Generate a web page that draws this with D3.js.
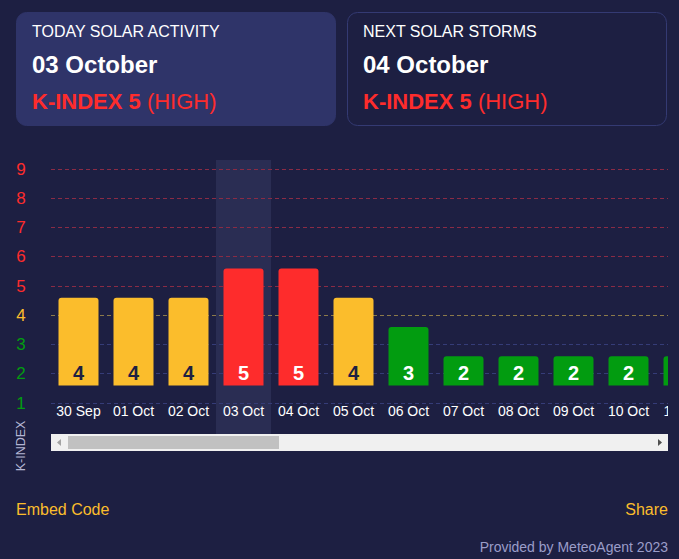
<!DOCTYPE html>
<html><head><meta charset="utf-8">
<script src="https://cdn.jsdelivr.net/npm/d3@7"></script>
<style>
html,body{margin:0;padding:0;background:#1d1f42;}
svg{display:block;font-family:"Liberation Sans",Arial,sans-serif;}
</style></head>
<body>
<svg id="c" width="679" height="559"></svg>
<script>
const dates = ["30 Sep","01 Oct","02 Oct","03 Oct","04 Oct","05 Oct","06 Oct","07 Oct","08 Oct","09 Oct","10 Oct","11 Oct"];
const kValues = [4,4,4,5,5,4,3,2,2,2,2,2];
const yTicks = [1,2,3,4,5,6,7,8,9];
const todayDate = "03 Oct";
const cards = [
  {title:"TODAY SOLAR ACTIVITY", date:"03 October", k:"K-INDEX 5", level:"(HIGH)"},
  {title:"NEXT SOLAR STORMS", date:"04 October", k:"K-INDEX 5", level:"(HIGH)"}
];

const BG="#1d1f42", YEL="#fbbd2c", RED="#fe2c2c", GRN="#029c10";
function kColor(v){ return v>=5?RED:(v===4?YEL:GRN); }

const svg = d3.select("#c");
svg.append("rect").attr("width",679).attr("height",559).attr("fill",BG);

// cards
const cardX = d3.scaleOrdinal().domain([0,1]).range([16,347]);
cards.forEach((c,i)=>{
  const x = cardX(i);
  const g = svg.append("g");
  g.append("rect").attr("x",x+0.5).attr("y",12.5).attr("width",319).attr("height",113).attr("rx",10)
    .attr("fill", i===0?"#2f3469":BG).attr("stroke", i===0?"#2f3469":"#343a73").attr("stroke-width",1);
  g.append("text").attr("x",x+16).attr("y",37).attr("fill","#fff").attr("font-size",16).text(c.title);
  g.append("text").attr("x",x+16).attr("y",73).attr("fill","#fff").attr("font-size",24).attr("font-weight","bold").text(c.date);
  const t = g.append("text").attr("x",x+16).attr("y",109).attr("fill",RED).attr("font-size",22);
  t.append("tspan").attr("font-weight","bold").text(c.k);
  t.append("tspan").text(" "+c.level);
});

// chart
const plotLeft = 51, plotRight = 668;
const x = d3.scaleBand().domain(dates).range([plotLeft, plotLeft+55*dates.length]).paddingInner(15/55).paddingOuter(7.5/55);
const yBar = d3.scaleLinear().domain([1,9]).range([385.5,151.5]);
const gridOffset = 17;

const defs = svg.append("defs");
defs.append("clipPath").attr("id","clip").append("rect").attr("x",plotLeft).attr("y",140).attr("width",plotRight-plotLeft).attr("height",300);

// y labels
const yAxis = svg.append("g");
yAxis.selectAll("text").data(yTicks).join("text")
  .attr("x",21).attr("y",d=>yBar(d)+gridOffset+6).attr("text-anchor","middle")
  .attr("font-size",17).attr("fill",d=>kColor(d)).text(d=>d);

const plot = svg.append("g").attr("clip-path","url(#clip)");
// highlight
plot.append("rect").attr("x",x(todayDate)-x.step()*x.paddingInner()/2).attr("y",160)
  .attr("width",x.step()).attr("height",280).attr("fill","#8890d0").attr("fill-opacity",0.12);

// grid
plot.selectAll("line.grid").data(yTicks).join("line")
  .attr("x1",plotLeft).attr("x2",plotRight)
  .attr("y1",d=>Math.round(yBar(d)+gridOffset)+0.5).attr("y2",d=>Math.round(yBar(d)+gridOffset)+0.5)
  .attr("stroke",d=>d>=5?"#8a2b45":(d===4?"#8c7a4a":"#353c78"))
  .attr("stroke-width",1).attr("stroke-dasharray","4,3");

// bars with rounded top corners
function barPath(x0,y0,w,h,r){
  return `M${x0},${y0+h}V${y0+r}Q${x0},${y0} ${x0+r},${y0}H${x0+w-r}Q${x0+w},${y0} ${x0+w},${y0+r}V${y0+h}Z`;
}
const data = dates.map((d,i)=>({d, v:kValues[i]}));
plot.selectAll("path.bar").data(data).join("path")
  .attr("d",d=>barPath(x(d.d), yBar(d.v), x.bandwidth(), yBar(1)-yBar(d.v), 3))
  .attr("fill",d=>kColor(d.v));
plot.selectAll("text.val").data(data).join("text")
  .attr("x",d=>x(d.d)+x.bandwidth()/2).attr("y",yBar(1)-6).attr("text-anchor","middle")
  .attr("font-size",20).attr("font-weight","bold")
  .attr("fill",d=>d.v===4?"#1d1f42":"#ffffff").text(d=>d.v);
plot.selectAll("text.date").data(data).join("text")
  .attr("x",d=>x(d.d)+x.bandwidth()/2).attr("y",416).attr("text-anchor","middle")
  .attr("font-size",14).attr("fill","#ffffff").text(d=>d.d);

// scrollbar
const sb = svg.append("g");
sb.append("rect").attr("x",51).attr("y",434).attr("width",617).attr("height",17).attr("fill","#f0f0f0");
sb.append("rect").attr("x",68).attr("y",436).attr("width",211).attr("height",13).attr("fill","#c1c1c1");
sb.append("path").attr("d","M57,442.5L61,439V446Z").attr("fill","#a3a3a3");
sb.append("path").attr("d","M662,442.5L658,439V446Z").attr("fill","#505050");

// y title
svg.append("text").attr("transform","translate(25,446) rotate(-90)").attr("text-anchor","middle")
  .attr("font-size",12.5).attr("fill","#b4b6d4").text("K-INDEX");

// footer
svg.append("text").attr("x",16).attr("y",515).attr("font-size",16).attr("fill",YEL).text("Embed Code");
svg.append("text").attr("x",668).attr("y",515).attr("text-anchor","end").attr("font-size",16).attr("fill",YEL).text("Share");
svg.append("text").attr("x",668).attr("y",552).attr("text-anchor","end").attr("font-size",14).attr("fill","#9b9dc9").text("Provided by MeteoAgent 2023");
</script>
</body></html>
